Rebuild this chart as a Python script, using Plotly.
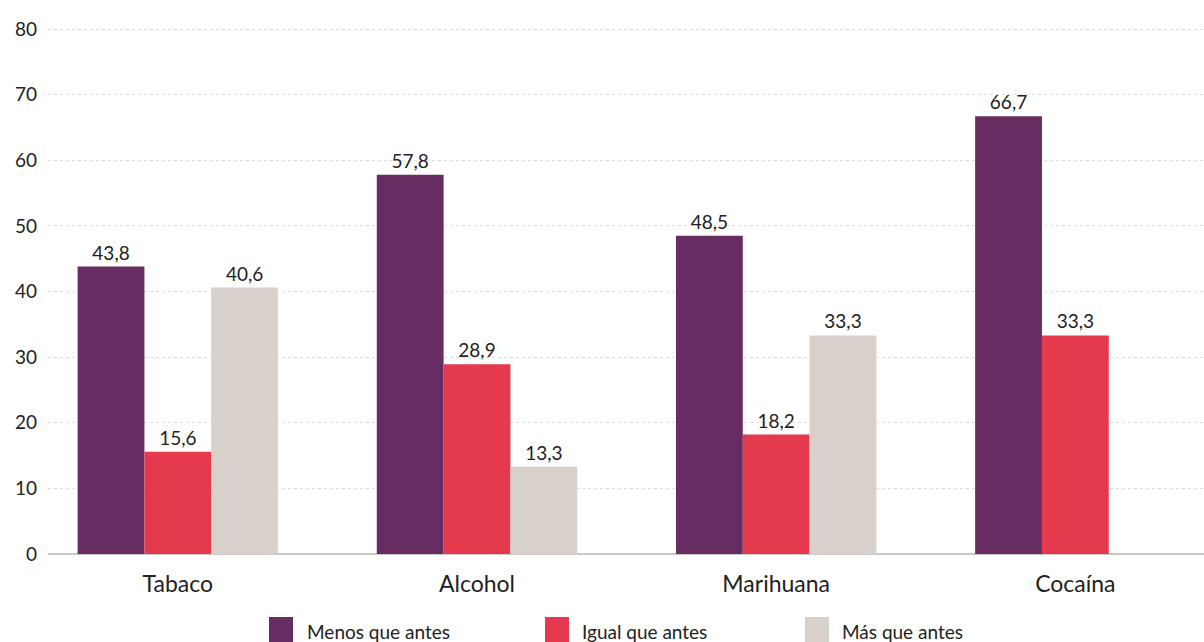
import plotly.graph_objects as go

categories = ["Tabaco", "Alcohol", "Marihuana", "Cocaína"]
menos = [43.8, 57.8, 48.5, 66.7]
igual = [15.6, 28.9, 18.2, 33.3]
mas = [40.6, 13.3, 33.3, None]
series_names = ["Menos que antes", "Igual que antes", "Más que antes"]
colors = ["#672D62", "#E5394D", "#D8D0CB"]
y_ticks = [0, 10, 20, 30, 40, 50, 60, 70, 80]

font_family = "Lato, 'Open Sans', sans-serif"

W, H = 1204, 642
L, R, T, B = 48, 0, 26, 88
PW, PH = W - L - R, H - T - B


def px_x(px):
    return (px - L) / PW


def px_y(py):
    return (H - B - py) / PH


fig = go.Figure()
for name, vals, col in zip(series_names, [menos, igual, mas], colors):
    fig.add_trace(go.Bar(
        x=categories, y=vals, name=name, showlegend=False,
        marker=dict(color=col, line=dict(width=0)),
        texttemplate="%{y:.1f}", textposition="outside",
        textfont=dict(size=19, color="#222", family=font_family),
        cliponaxis=False,
    ))

# custom legend (large square swatches)
legend_sq_x = [269, 545, 805]
legend_txt_x = [305, 580, 840]
for name, col, sx, tx in zip(series_names, colors, legend_sq_x, legend_txt_x):
    fig.add_shape(type="rect", xref="paper", yref="paper",
                  x0=px_x(sx), x1=px_x(sx + 24), y0=px_y(617), y1=px_y(642),
                  fillcolor=col, line=dict(width=0), layer="above")
    fig.add_annotation(xref="paper", yref="paper", x=px_x(tx), y=px_y(631),
                       xanchor="left", yanchor="middle", showarrow=False,
                       text=name, font=dict(size=19, color="#222", family=font_family))

fig.update_layout(
    barmode="group",
    bargap=0.33,
    bargroupgap=0,
    separators=",.",
    width=W, height=H,
    margin=dict(l=L, r=R, t=T, b=B, autoexpand=False),
    paper_bgcolor="white", plot_bgcolor="white",
    font=dict(family=font_family, color="#222"),
    showlegend=False,
    xaxis=dict(range=[-0.434, 3.43], showgrid=False, showline=False,
               tickfont=dict(size=23, color="#222"), ticks="",
               ticklabelstandoff=14),
    yaxis=dict(range=[0, 80.46], tickvals=y_ticks, showgrid=True,
               gridcolor="#DDDDDD", griddash="dot", gridwidth=1,
               zeroline=True, zerolinecolor="#C8C8C8", zerolinewidth=1.5,
               tickfont=dict(size=19, color="#222"), ticks="", ticklabelstandoff=10),
)

fig.write_html("out.html")
